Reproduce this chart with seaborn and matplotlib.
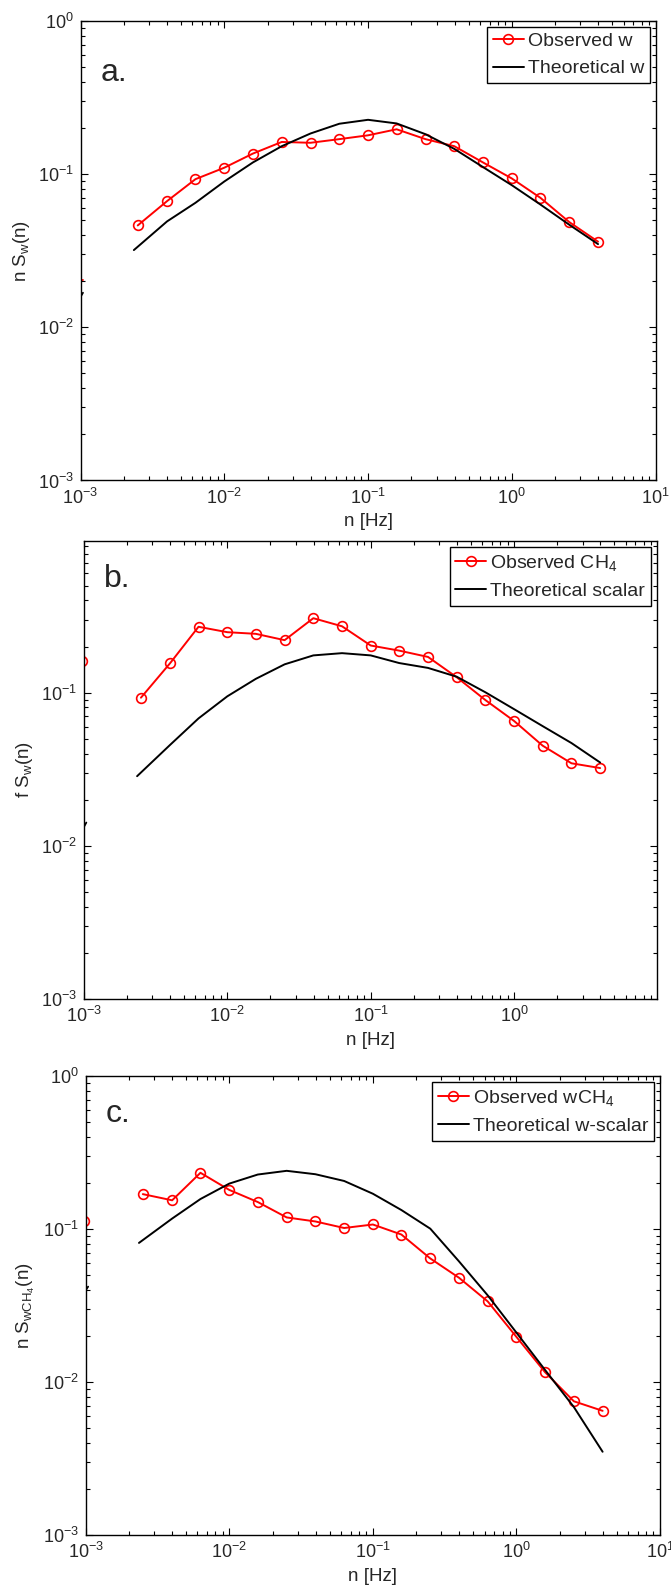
import numpy as np
import pandas as pd
import matplotlib
matplotlib.use("Agg")
import matplotlib.pyplot as plt
import matplotlib.ticker as mticker
import seaborn as sns

# Frequencias (Hz)
freq_obs = [0.0025, 0.004, 0.0063, 0.01, 0.0158, 0.0251, 0.0398, 0.0631, 0.1,
            0.158, 0.251, 0.398, 0.631, 1.0, 1.58, 2.51, 3.98]
freq_theo = [0.00235, 0.004, 0.0063, 0.01, 0.0158, 0.0251, 0.0398, 0.0631, 0.1,
             0.158, 0.251, 0.398, 0.631, 1.0, 1.58, 2.51, 3.98]

# a. w
obs_w = [0.0462, 0.0666, 0.0926, 0.110, 0.136, 0.162, 0.160, 0.169, 0.179,
         0.196, 0.169, 0.152, 0.119, 0.0936, 0.070, 0.0486, 0.0362]
theo_w = [0.0319, 0.0491, 0.0649, 0.0894, 0.119, 0.152, 0.184, 0.213, 0.226,
          0.214, 0.182, 0.146, 0.111, 0.0846, 0.0633, 0.0467, 0.0349]

# b. CH4
obs_ch4 = [0.0927, 0.156, 0.269, 0.248, 0.242, 0.220, 0.306, 0.271, 0.203,
           0.188, 0.171, 0.126, 0.0894, 0.0653, 0.0451, 0.0346, 0.0322]
theo_scalar = [0.0285, 0.0457, 0.0679, 0.0946, 0.123, 0.153, 0.175, 0.181, 0.175,
               0.156, 0.145, 0.127, 0.1005, 0.078, 0.0605, 0.0469, 0.035]

# c. wCH4
obs_wch4 = [0.169, 0.154, 0.233, 0.180, 0.150, 0.119, 0.112, 0.1015, 0.107,
            0.092, 0.0642, 0.048, 0.0336, 0.0197, 0.0116, 0.00748, 0.00648]
theo_wscalar = [0.0811, 0.117, 0.157, 0.198, 0.227, 0.240, 0.228, 0.206, 0.170,
                0.133, 0.1005, 0.0614, 0.0368, 0.0210, 0.0120, 0.00686, 0.0035]

# restos de curvas cortadas na borda esquerda
edge_x = [0.00097, 0.00104]
edge_red = {"a": [0.0202, 0.0202], "b": [0.16, 0.16], "c": [0.112, 0.112]}
edge_black = {"a": [0.0150, 0.0168], "b": [0.0126, 0.0142], "c": [0.038, 0.042]}

panels = [
    ("a", obs_w, theo_w, "Observed w", "Theoretical w", r"n S$_w$(n)",
     [0.120, 0.698, 0.857, 0.2889], (1e-3, 10), (1e-3, 1)),
    ("b", obs_ch4, theo_scalar, r"Observed CH$_4$", "Theoretical scalar", r"f S$_w$(n)",
     [0.125, 0.372, 0.854, 0.288], (1e-3, 9.9), (1e-3, 0.977)),
    ("c", obs_wch4, theo_wscalar, r"Observed wCH$_4$", "Theoretical w-scalar",
     r"n S$_{wCH_4}$(n)", [0.1277, 0.0352, 0.856, 0.2885], (1e-3, 10), (1e-3, 1)),
]

sns.set_style("ticks")
plt.rcParams["font.family"] = ["Liberation Sans", "DejaVu Sans"]
plt.rcParams["mathtext.fontset"] = "custom"
plt.rcParams["mathtext.rm"] = "Liberation Sans"
plt.rcParams["mathtext.it"] = "Liberation Sans:italic"
plt.rcParams["mathtext.default"] = "regular"

fig = plt.figure(figsize=(6.71, 15.91), dpi=100)

for key, obs, theo, lab_obs, lab_theo, ylab, pos, xl, yl in panels:
    ax = fig.add_axes(pos)
    ax.set_xscale("log")
    ax.set_yscale("log")

    df_obs = pd.DataFrame({"n": freq_obs, "S": obs})
    df_theo = pd.DataFrame({"n": freq_theo, "S": theo})
    sns.lineplot(data=df_obs, x="n", y="S", ax=ax, color="red", lw=1.4,
                 marker="o", markersize=7, markerfacecolor="none",
                 markeredgecolor="red", markeredgewidth=1.2, label=lab_obs)
    sns.lineplot(data=df_theo, x="n", y="S", ax=ax, color="black", lw=1.4,
                 label=lab_theo)

    if key == "a":
        ax.plot(edge_x, edge_red[key], color="red", lw=1.3)
    else:
        ax.plot(edge_x[:1], edge_red[key][:1], "o", mfc="none", mec="red",
                mew=1.2, ms=7)
    ax.plot(edge_x, edge_black[key], color="black", lw=1.3)

    ax.set_xlim(*xl)
    ax.set_ylim(*yl)
    ax.xaxis.set_major_locator(mticker.LogLocator(base=10, numticks=10))
    ax.yaxis.set_major_locator(mticker.LogLocator(base=10, numticks=10))
    ax.xaxis.set_minor_locator(mticker.LogLocator(base=10, subs=np.arange(2, 10), numticks=20))
    ax.yaxis.set_minor_locator(mticker.LogLocator(base=10, subs=np.arange(2, 10), numticks=20))
    ax.xaxis.set_minor_formatter(mticker.NullFormatter())
    ax.yaxis.set_minor_formatter(mticker.NullFormatter())
    ax.tick_params(which="both", direction="in", top=True, right=True,
                   labelsize=13, width=0.8, color="black")
    ax.tick_params(which="major", length=5, pad=5)
    ax.tick_params(which="minor", length=3)
    for s in ax.spines.values():
        s.set_linewidth(1.0)
        s.set_color("black")

    ax.set_xlabel("n [Hz]", fontsize=13.5, labelpad=4)
    ax.set_ylabel(ylab, fontsize=13.5, labelpad=4)
    ax.text(0.035, 0.9 if key != "a" else 0.87, key + ".", transform=ax.transAxes,
            fontsize=23, va="baseline")

    leg = ax.legend(loc="upper right", fontsize=14, frameon=True, fancybox=False,
                    framealpha=1, edgecolor="black", borderpad=0.3,
                    labelspacing=0.5, handlelength=1.6, handletextpad=0.2,
                    borderaxespad=0.3)
    leg.get_frame().set_linewidth(1.0)

fig.savefig("out.png", dpi=100)
